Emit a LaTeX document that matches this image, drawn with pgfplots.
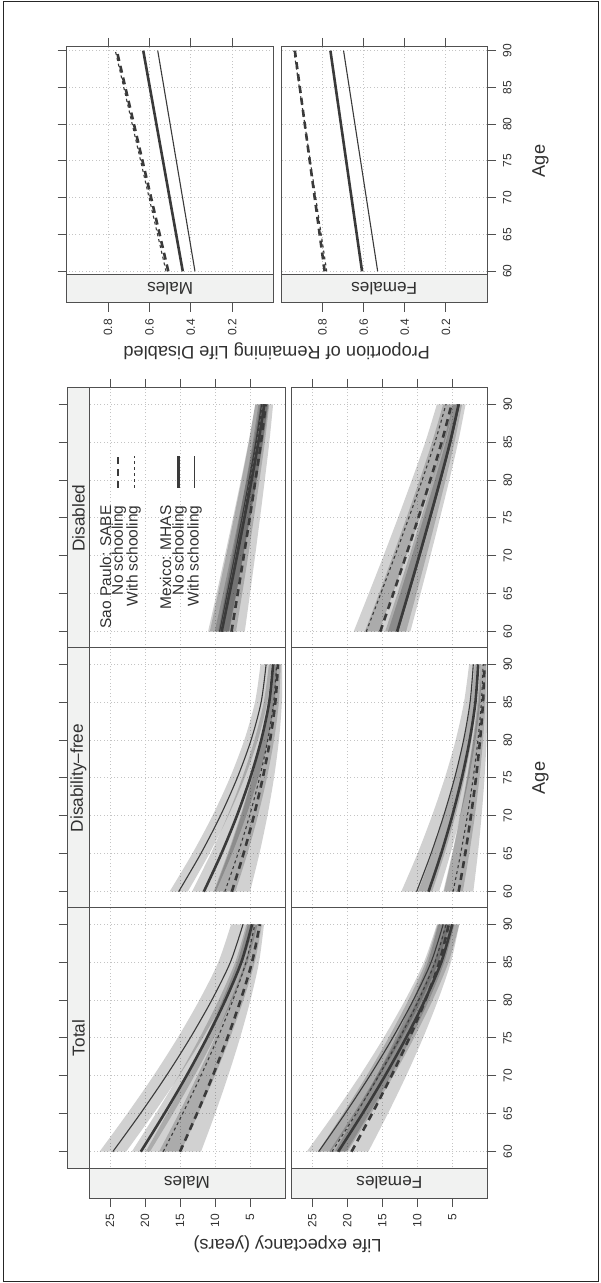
\documentclass[border=0pt]{standalone}
\usepackage{fontspec}
\setmainfont{Liberation Sans}
\usepackage{pgfplots}
\usepackage{pgfplotstable}
\pgfplotsset{compat=1.18}
\usepgfplotslibrary{fillbetween}
\definecolor{frame}{HTML}{505050}
\definecolor{txt}{HTML}{303030}
\definecolor{gridc}{HTML}{C4C4C4}
\definecolor{stripc}{HTML}{F1F2F1}
\definecolor{linec}{HTML}{3A3A3A}
\newcommand{\tickfont}{\fontsize{6}{7}\selectfont}
\newcommand{\stripfont}{\fontsize{8.6}{10}\selectfont}
\newcommand{\labfont}{\fontsize{9.1}{11}\selectfont}
\newcommand{\legfont}{\fontsize{7.75}{9}\selectfont}

% ts = MHAS with schooling, ks = MHAS no schooling,
% td = SABE with schooling, kd = SABE no schooling; l/h = band limits
\pgfplotstableread{
age ts tsl tsh ks ksl ksh td tdl tdh kd kdl kdh
60 24.60 22.70 26.50 20.60 19.30 21.90 17.40 14.90 19.90 15.00 12.00 18.00
65 20.68 18.81 22.55 17.25 16.03 18.47 14.64 12.39 16.89 12.59 9.99 15.19
70 16.97 15.14 18.80 14.08 12.95 15.21 12.03 10.03 14.03 10.33 8.13 12.53
75 13.55 11.75 15.35 11.16 10.11 12.21 9.62 7.87 11.37 8.23 6.43 10.03
80 10.46 8.69 12.23 8.52 7.55 9.49 7.44 5.94 8.94 6.34 4.94 7.74
85 7.80 6.07 9.53 6.24 5.36 7.12 5.57 4.32 6.82 4.71 3.71 5.71
90 6.00 4.30 7.70 4.70 3.90 5.50 4.30 3.30 5.30 3.60 3.00 4.20
}\MT
\pgfplotstableread{
age ts tsl tsh ks ksl ksh td tdl tdh kd kdl kdh
60 24.10 22.40 25.80 21.30 20.00 22.60 22.20 20.20 24.20 19.40 17.00 21.80
65 20.34 18.77 21.91 17.86 16.61 19.11 18.76 16.89 20.63 16.47 14.22 18.72
70 16.80 15.37 18.23 14.62 13.42 15.82 15.52 13.79 17.25 13.70 11.60 15.80
75 13.53 12.23 14.83 11.62 10.47 12.77 12.52 10.92 14.12 11.14 9.19 13.09
80 10.57 9.40 11.74 8.91 7.81 10.01 9.81 8.34 11.28 8.84 7.04 10.64
85 8.03 7.00 9.06 6.58 5.53 7.63 7.48 6.15 8.81 6.85 5.20 8.50
90 6.30 5.40 7.20 5.00 4.00 6.00 5.90 4.70 7.10 5.50 4.00 7.00
}\FT
\pgfplotstableread{
age ts tsl tsh ks ksl ksh td tdl tdh kd kdl kdh
60 15.20 13.90 16.50 11.60 9.90 13.30 8.60 7.10 10.10 7.60 5.00 10.20
65 12.04 10.82 13.26 9.10 7.58 10.62 6.73 5.38 8.08 5.93 3.66 8.20
70 9.24 8.11 10.37 6.88 5.55 8.21 5.07 3.87 6.27 4.45 2.52 6.38
75 6.83 5.78 7.88 4.97 3.82 6.12 3.64 2.59 4.69 3.18 1.58 4.78
80 4.85 3.88 5.82 3.40 2.43 4.37 2.47 1.57 3.37 2.14 0.87 3.41
85 3.41 2.53 4.29 2.26 1.48 3.04 1.62 0.87 2.37 1.38 0.45 2.31
90 2.70 1.90 3.50 1.70 1.10 2.30 1.20 0.60 1.80 1.00 0.40 1.60
}\MF
\pgfplotstableread{
age ts tsl tsh ks ksl ksh td tdl tdh kd kdl kdh
60 10.10 7.90 12.30 8.40 6.90 9.90 4.90 3.50 6.30 4.10 2.00 6.20
65 8.05 6.12 9.98 6.60 5.27 7.93 3.81 2.58 5.04 3.16 1.35 4.97
70 6.24 4.57 7.91 5.01 3.84 6.18 2.85 1.78 3.92 2.34 0.82 3.86
75 4.67 3.27 6.07 3.64 2.64 4.64 2.02 1.12 2.92 1.62 0.40 2.85
80 3.39 2.26 4.52 2.52 1.69 3.35 1.34 0.61 2.07 1.04 0.11 1.97
85 2.46 1.59 3.33 1.70 1.03 2.37 0.85 0.28 1.42 0.61 0.02 1.25
90 2.00 1.40 2.60 1.30 0.80 1.80 0.60 0.20 1.00 0.40 0.05 0.75
}\FF
\pgfplotstableread{
age ts tsl tsh ks ksl ksh td tdl tdh kd kdl kdh
60 9.35 7.95 10.75 9.05 8.05 10.05 9.00 7.00 11.00 7.65 5.75 9.55
65 8.26 6.94 9.58 7.94 7.01 8.87 7.95 6.12 9.78 6.76 5.00 8.52
70 7.19 5.96 8.42 6.85 5.98 7.72 6.93 5.26 8.60 5.89 4.27 7.51
75 6.15 5.00 7.30 5.80 5.00 6.60 5.94 4.44 7.44 5.04 3.57 6.52
80 5.14 4.07 6.21 4.77 4.04 5.50 4.97 3.64 6.30 4.22 2.89 5.55
85 4.18 3.20 5.16 3.80 3.13 4.47 4.05 2.88 5.22 3.43 2.24 4.62
90 3.35 2.45 4.25 2.95 2.35 3.55 3.25 2.25 4.25 2.75 1.70 3.80
}\MD
\pgfplotstableread{
age ts tsl tsh ks ksl ksh td tdl tdh kd kdl kdh
60 12.80 11.00 14.60 12.90 11.60 14.20 17.30 15.50 19.10 15.30 13.10 17.50
65 11.20 9.55 12.85 11.30 10.13 12.47 15.23 13.51 16.95 13.44 11.41 15.47
70 9.63 8.13 11.13 9.73 8.70 10.76 13.20 11.57 14.83 11.63 9.76 13.50
75 8.11 6.76 9.46 8.21 7.31 9.11 11.22 9.67 12.77 9.86 8.16 11.56
80 6.63 5.43 7.83 6.73 5.96 7.50 9.31 7.84 10.78 8.15 6.62 9.68
85 5.22 4.17 6.27 5.32 4.69 5.95 7.48 6.10 8.86 6.52 5.15 7.89
90 4.00 3.10 4.90 4.10 3.60 4.60 5.90 4.60 7.20 5.10 3.90 6.30
}\FD
% proportion of remaining life disabled (m = males, f = females)
\pgfplotstableread{
age mts mks mtd mkd fts fks ftd fkd
60 0.380 0.439 0.520 0.509 0.532 0.608 0.780 0.790
90 0.560 0.630 0.765 0.758 0.698 0.762 0.940 0.935
}\PR

\tikzset{
  thinsolid/.style={linec, line width=0.55pt},
  thicksolid/.style={linec, line width=1.3pt},
  thindash/.style={linec, line width=0.55pt, dash pattern=on 1.5pt off 1.5pt},
  thickdash/.style={linec, line width=1.3pt, dash pattern=on 3.5pt off 2.5pt},
  ciband/.style={fill=black, fill opacity=0.18, draw=none},
}
\pgfplotsset{
  panel/.style={scale only axis, anchor=north west, clip=false, x dir=reverse,
    no markers, axis line style={draw=none},
    tick align=outside, major tick length=4.5pt,
    tick style={frame, line width=0.5pt},
    grid=major, major grid style={gridc, line width=0.5pt, dash pattern=on 0.5pt off 1.2pt},
    ytick={60,65,...,90},
    ticklabel style={font=\tickfont, text=txt},
    xticklabel style={rotate=90, anchor=east},
    yticklabel style={rotate=90, anchor=north},
    /pgf/number format/assume math mode=true},
  mrow/.style={panel, width=108.65pt, xmin=0, xmax=31.043, ytick pos=left, yticklabels={}},
  frow/.style={panel, width=98pt, xmin=0, xmax=28, ytick pos=right},
  upper/.style={height=130pt, ymin=57.85, ymax=92.15, xtick={5,10,...,25}},
  lower/.style={height=145pt, ymin=53.892, ymax=92.15, xtick={5,10,...,25}, xtick pos=left},
}
\newcommand{\leband}[2]{%
  \addplot[name path=lo#2, draw=none, smooth] table[x=#2l, y=age]{#1};
  \addplot[name path=hi#2, draw=none, smooth] table[x=#2h, y=age]{#1};
  \addplot[ciband] fill between[of=lo#2 and hi#2];
}
\newcommand{\lelines}[1]{%
  \leband{#1}{ts}\leband{#1}{ks}\leband{#1}{td}\leband{#1}{kd}
  \addplot[thinsolid, smooth] table[x=ts, y=age]{#1};
  \addplot[thicksolid, smooth] table[x=ks, y=age]{#1};
  \addplot[thindash, smooth] table[x=td, y=age]{#1};
  \addplot[thickdash, smooth] table[x=kd, y=age]{#1};
}
\newcommand{\databox}{\draw[frame, line width=0.5pt] (axis cs:0,57.85) rectangle (axis cs:28,92.15);}
\newcommand{\topstrip}[1]{%
  \filldraw[fill=stripc, draw=frame, line width=0.5pt] (axis cs:28,57.85) rectangle (axis cs:31.043,92.15);
  \node[rotate=90, font=\stripfont, text=txt] at (axis cs:29.52,75) {#1};
}
\newcommand{\leftstrip}[1]{%
  \filldraw[fill=stripc, draw=frame, line width=0.5pt] (axis cs:0,53.892) rectangle (axis cs:28,57.85);
  \node[rotate=180, font=\stripfont, text=txt] at (axis cs:14,55.87) {#1};
}

\begin{document}
\begin{tikzpicture}
\path (0,0) rectangle (300pt,641.5pt);
\draw[black!85, line width=0.5pt] (1.5pt,0.75pt) rectangle (299pt,640.75pt);

% proportion of remaining life disabled
\begin{axis}[panel, at={(33.35pt,618pt)}, width=103.45pt, height=128pt,
  xmin=0, xmax=1, ymin=55.693, ymax=90.5, xtick={0.2,0.4,0.6,0.8},
  xtick pos=both, xticklabel pos=left, ytick pos=left, yticklabels={}]
  \addplot[thinsolid] table[x=mts, y=age]{\PR};
  \addplot[thicksolid] table[x=mks, y=age]{\PR};
  \addplot[thindash] table[x=mtd, y=age]{\PR};
  \addplot[thickdash] table[x=mkd, y=age]{\PR};
  \draw[frame, line width=0.5pt] (axis cs:0,59.5) rectangle (axis cs:1,90.5);
  \filldraw[fill=stripc, draw=frame, line width=0.5pt] (axis cs:0,55.693) rectangle (axis cs:1,59.5);
  \node[rotate=180, font=\stripfont, text=txt] at (axis cs:0.5,57.6) {Males};
\end{axis}
\begin{axis}[panel, at={(140.75pt,618pt)}, width=102.75pt, height=128pt,
  xmin=0, xmax=1, ymin=55.693, ymax=90.5, xtick={0.2,0.4,0.6,0.8},
  xtick pos=both, xticklabel pos=left, ytick pos=right]
  \addplot[thinsolid] table[x=fts, y=age]{\PR};
  \addplot[thicksolid] table[x=fks, y=age]{\PR};
  \addplot[thindash] table[x=ftd, y=age]{\PR};
  \addplot[thickdash] table[x=fkd, y=age]{\PR};
  \draw[frame, line width=0.5pt] (axis cs:0,59.5) rectangle (axis cs:1,90.5);
  \filldraw[fill=stripc, draw=frame, line width=0.5pt] (axis cs:0,55.693) rectangle (axis cs:1,59.5);
  \node[rotate=180, font=\stripfont, text=txt] at (axis cs:0.5,57.6) {Females};
\end{axis}

% life expectancy: Disabled
\begin{axis}[mrow, upper, at={(33.85pt,447.5pt)}, xtick pos=right, xticklabels={}]
  \lelines{\MD}
  \databox \topstrip{Disabled}
  \node[rotate=90, anchor=east, inner sep=0pt, font=\legfont, text=txt] at (axis cs:25.64,76.7) {Sao Paulo: SABE};
  \node[rotate=90, anchor=east, inner sep=0pt, font=\legfont, text=txt] at (axis cs:23.74,76.7) {No schooling};
  \node[rotate=90, anchor=east, inner sep=0pt, font=\legfont, text=txt] at (axis cs:21.64,76.7) {With schooling};
  \node[rotate=90, anchor=east, inner sep=0pt, font=\legfont, text=txt] at (axis cs:17.07,76.7) {Mexico: MHAS};
  \node[rotate=90, anchor=east, inner sep=0pt, font=\legfont, text=txt] at (axis cs:15.07,76.7) {No schooling};
  \node[rotate=90, anchor=east, inner sep=0pt, font=\legfont, text=txt] at (axis cs:12.93,76.7) {With schooling};
  \draw[thickdash] (axis cs:23.86,78.96) -- (axis cs:23.86,83.18);
  \draw[thindash] (axis cs:21.47,78.96) -- (axis cs:21.47,83.18);
  \draw[thicksolid] (axis cs:15.19,78.96) -- (axis cs:15.19,83.18);
  \draw[thinsolid] (axis cs:12.90,78.96) -- (axis cs:12.90,83.18);
\end{axis}
\begin{axis}[frow, upper, at={(145.65pt,447.5pt)}, xtick pos=right, xticklabels={}]
  \lelines{\FD}
  \databox
\end{axis}

% Disability-free
\begin{axis}[mrow, upper, at={(33.85pt,317.5pt)}, major x tick style=transparent, xticklabels={}]
  \lelines{\MF}
  \databox \topstrip{Disability--free}
\end{axis}
\begin{axis}[frow, upper, at={(145.65pt,317.5pt)}, major x tick style=transparent, xticklabels={}]
  \lelines{\FF}
  \databox
\end{axis}

% Total
\begin{axis}[mrow, lower, at={(33.85pt,187.5pt)}]
  \lelines{\MT}
  \databox \topstrip{Total} \leftstrip{Males}
\end{axis}
\begin{axis}[frow, lower, at={(145.65pt,187.5pt)}]
  \lelines{\FT}
  \databox \leftstrip{Females}
\end{axis}

\node[rotate=90, font=\labfont, text=txt] at (270.25pt,561pt) {Age};
\node[rotate=90, font=\labfont, text=txt] at (270.25pt,252.5pt) {Age};
\node[rotate=180, font=\labfont, text=txt] at (138.35pt,465.75pt) {Proportion of Remaining Life Disabled};
\node[rotate=180, font=\labfont, text=txt] at (143.75pt,19.5pt) {Life expectancy (years)};
\end{tikzpicture}
\end{document}
